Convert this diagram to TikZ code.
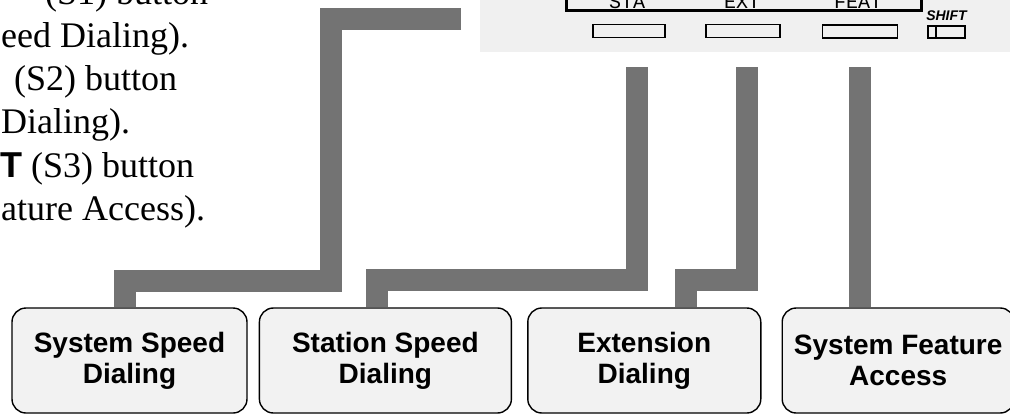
\documentclass[tikz,border=0pt]{standalone}
\usepackage{fontspec}
\setmainfont{Liberation Serif}
\setsansfont{Liberation Sans}
\setmonofont{Liberation Mono}
\usetikzlibrary{positioning, calc}
\tikzset{
    modo/.style={rectangle, rounded corners=14pt, draw, line width=1.4pt, fill=black!5, minimum height=105pt, inner sep=0pt, align=center, font=\sffamily\bfseries\fontsize{28}{31}\selectfont},
    tecla/.style={rectangle, draw, line width=1.8pt, minimum height=13pt, inner sep=0pt},
    rotulo/.style={anchor=base, inner sep=0pt, font=\ttfamily\fontsize{20}{20}\selectfont},
    prosa/.style={anchor=base west, inner sep=0pt, font=\fontsize{36}{43}\selectfont},
    barra/.style={line width=22pt, draw=black!55, line join=miter}
}
\begin{document}
\begin{tikzpicture}[x=1pt, y=-1pt]
        \useasboundingbox (0,0) rectangle (1010,416);
        \clip (0,0) rectangle (1010,416);

        % Fundo pontilhado do painel
        \fill[black!6] (480,0) rectangle (1010,52);

        % Texto das instrucoes (cortado a esquerda)
        \node (l1) [prosa] at (45,4) {(S1) button};
        \node (l2) [prosa] at (1,47) {eed Dialing).};
        \node (l3) [prosa] at (14,90) {(S2) button};
        \node (l4) [prosa] at (1,133) {Dialing).};
        \node (l5) [prosa] at (0,177) {{\sffamily\bfseries T} (S3) button};
        \node (l6) [prosa] at (1,220) {ature Access).};

        % Painel do visor
        \node (panel) [draw, line width=2.6pt, minimum width=355pt, minimum height=60pt, inner sep=0pt, anchor=south west] at (565,12) {};
        \node (lsta) [rotulo] at (627,8) {STA};
        \node (lext) [rotulo] at (742,8) {EXT};
        \node (lfeat) [rotulo] at (858,8) {FEAT};

        % Teclas
        \node (sta) [tecla, minimum width=72pt] at (629,31) {};
        \node (extk) [tecla, minimum width=74pt] at (743,31) {};
        \node (feat) [tecla, minimum width=75pt] at (860,31.5) {};
        \node (shift) [tecla, minimum width=37pt, minimum height=12pt] at (946.5,32) {};
        \draw[line width=1.5pt] ($(shift.north west)+(9,0)$) -- ($(shift.south west)+(9,0)$);
        \node (lshift) [above=4pt of shift, inner sep=0pt, font=\sffamily\bfseries\itshape\fontsize{14}{14}\selectfont] {SHIFT};

        % Caixas dos modos
        \node (ssd) [modo, minimum width=235pt] at (129.5,360.5) {System Speed\\Dialing};
        \node (stn) [modo, minimum width=252pt, right=11pt of ssd] {Station Speed\\Dialing};
        \node (ext) [modo, minimum width=233pt, right=15pt of stn] {Extension\\Dialing};
        \node (sfa) [modo, minimum width=232pt, right=20pt of ext] {System Feature\\Access};

        % Pontas livres das barras
        \coordinate (s1) at (461,19);
        \coordinate (tsta) at (637,67);
        \coordinate (text) at (747,67);
        \coordinate (tfeat) at (860,67);

        % Barras de ligacao
        \draw [barra] (s1) -| (331,281) -| ($(ssd.north)+(-5,0)$);
        \draw [barra] (tsta) |- ($(stn.north)+(-8,-27)$) -- ($(stn.north)+(-8,0)$);
        \draw [barra] (text) |- ($(ext.north)+(42,-27)$) -- ($(ext.north)+(42,0)$);
        \draw [barra] (tfeat) -- (tfeat |- sfa.north);

\end{tikzpicture}
\end{document}
